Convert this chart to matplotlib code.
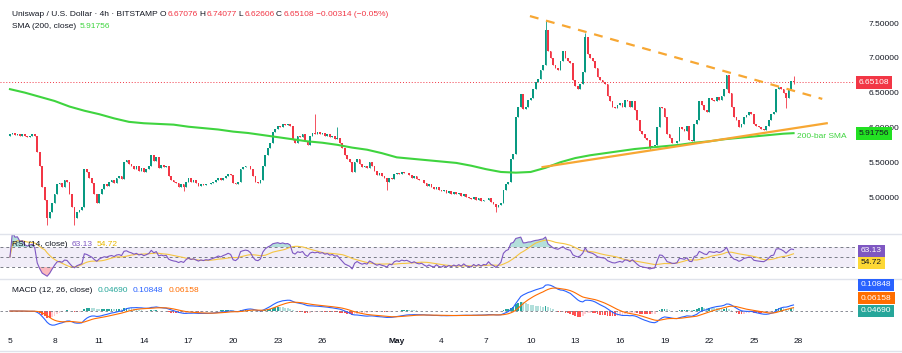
import numpy as np
import pandas as pd
import matplotlib.pyplot as plt
from matplotlib.transforms import blended_transform_factory

plt.rcParams['font.family'] = ['Liberation Sans', 'DejaVu Sans']

W, H = 903, 353

# 4h closes, six candles per day starting Apr 5 (last day has five)
closes = [
    5.90, 5.92, 5.89, 5.91, 5.88, 5.90,   # Apr 5
    5.87, 5.86, 5.88, 5.90, 5.87, 5.65,   # Apr 6
    5.45, 5.14, 4.95, 4.70, 4.78, 4.91,   # Apr 7
    5.05, 5.18, 5.20, 5.15, 5.24, 5.22,   # Apr 8
    5.05, 4.85, 4.70, 4.78, 4.82, 4.86,   # Apr 9
    5.40, 5.36, 5.28, 5.20, 5.05, 4.92,   # Apr 10
    5.05, 5.12, 5.18, 5.16, 5.22, 5.25,   # Apr 11
    5.20, 5.28, 5.30, 5.26, 5.50, 5.53,   # Apr 12
    5.48, 5.45, 5.40, 5.44, 5.38, 5.41,   # Apr 13
    5.36, 5.40, 5.45, 5.60, 5.52, 5.58,   # Apr 14
    5.42, 5.46, 5.43, 5.45, 5.30, 5.25,   # Apr 15
    5.22, 5.20, 5.15, 5.18, 5.14, 5.22,   # Apr 16
    5.27, 5.22, 5.24, 5.20, 5.16, 5.19,   # Apr 17
    5.17, 5.19, 5.18, 5.20, 5.22, 5.24,   # Apr 18
    5.27, 5.25, 5.28, 5.30, 5.33, 5.31,   # Apr 19
    5.20, 5.18, 5.22, 5.40, 5.43, 5.45,   # Apr 20
    5.44, 5.40, 5.30, 5.22, 5.20, 5.24,   # Apr 21
    5.45, 5.60, 5.70, 5.78, 5.93, 5.98,   # Apr 22
    6.02, 6.00, 6.05, 6.03, 6.05, 6.02,   # Apr 23
    5.82, 5.78, 5.88, 5.86, 5.90, 5.80,   # Apr 24
    5.75, 5.88, 5.92, 5.90, 5.93, 5.90,   # Apr 25
    5.92, 5.88, 5.90, 5.86, 5.88, 5.84,   # Apr 26
    5.85, 5.78, 5.70, 5.60, 5.55, 5.50,   # Apr 27
    5.36, 5.50, 5.55, 5.48, 5.43, 5.45,   # Apr 28
    5.42, 5.50, 5.45, 5.38, 5.32, 5.34,   # Apr 29
    5.30, 5.27, 5.22, 5.28, 5.26, 5.33,   # Apr 30
    5.35, 5.33, 5.36, 5.34, 5.35, 5.32,   # May 1
    5.28, 5.30, 5.26, 5.24, 5.25, 5.20,   # May 2
    5.16, 5.18, 5.14, 5.12, 5.15, 5.10,   # May 3
    5.08, 5.10, 5.06, 5.08, 5.05, 5.07,   # May 4
    5.04, 5.06, 5.02, 5.05, 5.00, 4.98,   # May 5
    4.97, 5.00, 4.96, 4.98, 4.94, 4.96,   # May 6
    4.95, 4.99, 4.93, 4.90, 4.85, 4.88,   # May 7
    4.92, 5.10, 5.18, 5.22, 5.55, 5.62,   # May 8
    6.15, 6.30, 6.48, 6.27, 6.30, 6.40,   # May 9
    6.42, 6.55, 6.65, 6.70, 6.82, 6.90,   # May 10
    7.40, 7.10, 7.00, 6.90, 6.85, 6.82,   # May 11
    6.95, 7.10, 7.00, 6.95, 6.92, 6.68,   # May 12
    6.60, 6.55, 6.62, 6.80, 7.30, 7.05,   # May 13
    7.00, 6.95, 6.85, 6.72, 6.68, 6.65,   # May 14
    6.62, 6.45, 6.38, 6.30, 6.28, 6.32,   # May 15
    6.35, 6.30, 6.40, 6.38, 6.30, 6.38,   # May 16
    6.25, 6.10, 5.95, 5.90, 5.85, 5.82,   # May 17
    5.72, 5.74, 5.75, 6.00, 6.30, 6.28,   # May 18
    6.15, 5.90, 5.85, 5.78, 5.77, 5.80,   # May 19
    6.00, 5.98, 5.95, 6.02, 5.82, 5.80,   # May 20
    6.05, 6.10, 6.38, 6.32, 6.25, 6.22,   # May 21
    6.42, 6.40, 6.38, 6.44, 6.40, 6.45,   # May 22
    6.55, 6.75, 6.50, 6.30, 6.15, 6.10,   # May 23
    6.00, 6.05, 6.15, 6.18, 6.22, 6.20,   # May 24
    6.05, 6.02, 6.00, 5.98, 5.97, 6.02,   # May 25
    6.10, 6.20, 6.22, 6.55, 6.58, 6.55,   # May 26
    6.50, 6.42, 6.55, 6.67076, 6.65108,   # May 27
]
first_open = 5.88

# wick extremes that stick out of the bodies (candle index -> price)
wick_highs = {123: 6.20, 132: 6.00, 216: 7.54, 232: 7.35, 316: 6.74077}
wick_lows = {15: 4.60, 26: 4.60, 70: 5.09, 152: 5.10, 196: 4.78,
             258: 5.68, 313: 6.28, 316: 6.62606}

# 200 SMA, one value per day (Apr 5 ... May 27) plus the last bar
sma_days = list(range(53)) + [52.67]
sma_vals = [6.55, 6.50, 6.44, 6.38, 6.30, 6.24, 6.19, 6.13, 6.08, 6.06,
            6.05, 6.04, 6.01, 5.99, 5.97, 5.94, 5.92, 5.89, 5.86, 5.83,
            5.80, 5.78, 5.75, 5.71, 5.68, 5.63, 5.57, 5.55, 5.53, 5.51,
            5.49, 5.45, 5.40, 5.36, 5.35, 5.36, 5.42, 5.50, 5.56, 5.60,
            5.63, 5.66, 5.69, 5.71, 5.73, 5.75, 5.78, 5.80, 5.83, 5.85,
            5.87, 5.89, 5.91, 5.91756]

# hand-drawn trend lines: (day, price) end points
resist_line = [(34.95, 7.60), (54.6, 6.41)]
support_line = [(35.8, 5.43), (54.9, 6.06)]

tick_days = [0, 3, 6, 9, 12, 15, 18, 21, 26, 29, 32, 35, 38, 41, 44, 47, 50, 53]
tick_labels = ['5', '8', '11', '14', '17', '20', '23', '26', 'May',
               '4', '7', '10', '13', '16', '19', '22', '25', '28']
price_ticks = [5.0, 5.5, 6.0, 6.5, 7.0, 7.5]

last_close = 6.65108
last_sma = 5.91756
rsi_txt = ['63.13', '54.72']
macd_txt = ['0.04690', '0.10848', '0.06158']

GREEN = '#089981'
RED = '#f23645'
SMA_C = '#3fd43f'
ORANGE = '#f7a733'
TXT = '#131722'

# ---- data prep
c = np.array(closes)
o = np.r_[first_open, c[:-1]]
hi = np.maximum(o, c)
lo = np.minimum(o, c)
for k, v in wick_highs.items():
    hi[k] = v
for k, v in wick_lows.items():
    lo[k] = v
x = np.arange(len(c)) / 6.0
up = c >= o

s = pd.Series(c)
d = s.diff()
gain = d.clip(lower=0).ewm(alpha=1 / 14, adjust=False).mean()
loss = (-d.clip(upper=0)).ewm(alpha=1 / 14, adjust=False).mean()
rsi = (100 - 100 / (1 + gain / loss)).fillna(50)
rsi_ma = rsi.rolling(14, min_periods=1).mean()

macd = s.ewm(span=12, adjust=False).mean() - s.ewm(span=26, adjust=False).mean()
signal = macd.ewm(span=9, adjust=False).mean()
hist = macd - signal
hd = hist.diff().fillna(0)
hcol = np.where(hist >= 0, np.where(hd >= 0, '#26a69a', '#b2dfdb'),
                np.where(hd <= 0, '#ff5252', '#ffcdd2'))

# ---- figure
fig = plt.figure(figsize=(W / 100, H / 100), dpi=100)
R = 855 / W


def pane(top, bottom):
    return fig.add_axes([0, 1 - bottom / H, R, (bottom - top) / H])


ax = pane(8, 233)
ar = pane(235, 278)
am = pane(280, 330)
xl = (-0.67, 56.8)

for a in (ax, ar, am):
    a.set_xlim(*xl)
    for sp in a.spines.values():
        sp.set_visible(False)
    a.yaxis.tick_right()
    a.tick_params(length=0, labelsize=6, colors=TXT, pad=10)
    a.set_xticks([])
    a.set_yticks([])

# price pane
ax.set_ylim(4.483, 7.716)
bw = 0.7 / 6
ax.vlines(x, lo, hi, color=np.where(up, GREEN, RED), lw=0.6, zorder=2)
ax.bar(x, np.maximum(hi * 0 + np.abs(c - o), 0.006), bottom=np.minimum(o, c), width=bw,
       color=np.where(up, GREEN, RED), zorder=3, linewidth=0)
ax.plot(sma_days, sma_vals, color=SMA_C, lw=1.5, zorder=4)
ax.plot(*zip(*resist_line), color=ORANGE, lw=1.6, ls=(0, (4, 3.5)), zorder=5)
ax.plot(*zip(*support_line), color=ORANGE, lw=1.6, zorder=5)
ax.axhline(last_close, color=RED, lw=0.7, ls=(0, (1, 2)), zorder=1)
ax.text(52.9, 5.875, '200-bar SMA', color=SMA_C, fontsize=6, va='center', ha='left')
ax.set_yticks(price_ticks)
ax.set_yticklabels(['%.5f' % p for p in price_ticks])

btr = blended_transform_factory(ax.transAxes, ax.transData)
bx = 859 / 855
ax.text(bx, last_close, '%.5f' % last_close, transform=btr, color='white', fontsize=6,
        va='center', ha='left', clip_on=False, zorder=10,
        bbox=dict(boxstyle='square,pad=0.35', fc=RED, ec='none'))
ax.text(bx, last_sma, '%.5f' % last_sma, transform=btr, color=TXT, fontsize=6,
        va='center', ha='left', clip_on=False, zorder=10,
        bbox=dict(boxstyle='square,pad=0.35', fc='#22e022', ec='none'))

# RSI pane
ar.set_ylim(8, 94)
ar.axhspan(30, 70, color='#7e57c2', alpha=0.1, lw=0)
for lvl in (70, 50, 30):
    ar.axhline(lvl, color='#787b86', lw=0.7, ls=(0, (3, 3)))
ar.fill_between(x, 70, rsi, where=rsi > 70, color='#26a69a', alpha=0.35, lw=0, interpolate=True)
ar.fill_between(x, 30, rsi, where=rsi < 30, color='#f23645', alpha=0.35, lw=0, interpolate=True)
ar.plot(x, rsi_ma, color='#f5c542', lw=0.8)
ar.plot(x, rsi, color='#7e57c2', lw=0.8)

# MACD pane
span = macd.max() - macd.min()
am.set_ylim(macd.min() - 0.12 * span, macd.max() + 0.12 * span)
am.axhline(0, color='#787b86', lw=0.6, ls=(0, (3, 3)))
am.bar(x, hist, width=bw, color=hcol, lw=0)
am.plot(x, macd, color='#2962ff', lw=0.8)
am.plot(x, signal, color='#ff6d00', lw=0.8)
am.set_xticks(tick_days)
am.set_xticklabels(tick_labels)
am.tick_params(axis='x', pad=6)
for t in am.get_xticklabels():
    if t.get_text() == 'May':
        t.set_fontweight('bold')

# pane separators
for yy in (234, 279, 351):
    fig.add_artist(plt.Line2D([0, 1], [1 - yy / H] * 2, color='#e0e3eb', lw=1))

# badges on the indicator scales (stacked like the platform does)
for txt, yy, fc, tc in [(rsi_txt[0], 251, '#7e57c2', 'white'),
                        (rsi_txt[1], 263, '#fdd835', TXT),
                        (macd_txt[1], 285, '#2962ff', 'white'),
                        (macd_txt[2], 298, '#ff6d00', 'white'),
                        (macd_txt[0], 311, '#26a69a', 'white')]:
    fig.text(861 / W, 1 - yy / H, txt, color=tc, fontsize=6, va='center', ha='left',
             bbox=dict(boxstyle='square,pad=0.35', fc=fc, ec='none'))

# legend rows
fig.canvas.draw()
rend = fig.canvas.get_renderer()


def runs(x0, y0, parts, gap=3):
    xx = x0
    for txt, col in parts:
        t = fig.text(xx / W, 1 - y0 / H, txt, color=col, fontsize=6, va='center', ha='left')
        xx += t.get_window_extent(renderer=rend).width + gap


runs(12, 15, [('Uniswap / U.S. Dollar · 4h · BITSTAMP', TXT), ('O', TXT), ('6.67076', RED),
              ('H', TXT), ('6.74077', RED), ('L', TXT), ('6.62606', RED), ('C', TXT),
              ('6.65108', RED), ('−0.00314 (−0.05%)', RED)], gap=1.5)
runs(12, 27, [('SMA (200, close)', TXT), ('%.5f' % last_sma, SMA_C)], gap=4)
runs(12, 245, [('RSI (14, close)', TXT), (rsi_txt[0], '#7e57c2'), (rsi_txt[1], '#e6b800')], gap=4)
runs(12, 290, [('MACD (12, 26, close)', TXT), (macd_txt[0], '#26a69a'),
               (macd_txt[1], '#2962ff'), (macd_txt[2], '#ff6d00')], gap=5)

fig.savefig('out.png', dpi=100)
